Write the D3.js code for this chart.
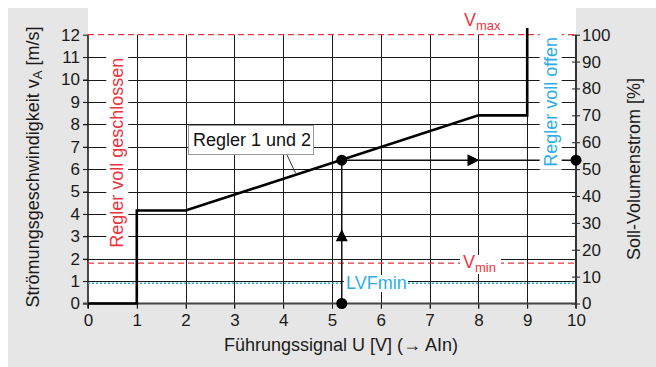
<!DOCTYPE html>
<html>
<head>
<meta charset="utf-8">
<script src="https://cdn.jsdelivr.net/npm/d3@7"></script>
<style>
  body { margin: 0; background: #fff; }
  svg { display: block; font-family: "Liberation Sans", Arial, sans-serif; }
</style>
</head>
<body>
<svg id="chart" width="656" height="367"></svg>
<script>
// Control signal U [V] and resulting air velocity v_A [m/s]
const xTicks = [0, 1, 2, 3, 4, 5, 6, 7, 8, 9, 10];
const yTicks = [0, 1, 2, 3, 4, 5, 6, 7, 8, 9, 10, 11, 12];
const pctTicks = [0, 10, 20, 30, 40, 50, 60, 70, 80, 90, 100];

// Characteristic curve of "Regler 1 und 2"
const curveU = [0, 1, 1, 2, 8, 9, 9];
const curveV = [0, 0, 4.15, 4.15, 8.4, 8.4, 12.3];

// Limits
const vMax = 12;
const vMin = 1.8;
const lvfMin = 0.9;

// Operating point example
const opU = 5.2;
const opV = 6.4;
const opArrowV = 3.05;   // where the upward arrow sits
const opArrowU = 7.9;    // where the rightward arrow sits

const svg = d3.select("#chart");
const W = 656, H = 367;
const mLeft = 88, mRight = 576, mTop = 34.7, mBottom = 303.5;

const x = d3.scaleLinear().domain([0, 10]).range([mLeft, mRight]);
const y = d3.scaleLinear().domain([0, 12]).range([mBottom, mTop]);
const yPct = d3.scaleLinear().domain([0, 100]).range([mBottom, mTop]);

const red = "#ee3340";
const blue = "#2eaee6";
const gridCol = "#1a1a1a";
const fontFam = "Liberation Sans, Arial, sans-serif";
const tickFs = 17, labelFs = 18;

// Frame panels
svg.append("rect").attr("x", 8).attr("y", 8).attr("width", W - 8).attr("height", H - 8).attr("fill", "#e6e6e6");
svg.append("rect").attr("x", mLeft).attr("y", 0).attr("width", mRight - mLeft).attr("height", mBottom).attr("fill", "#fff");

const px = v => Math.round(v) + 0.5;

// Grid (top line is the V_max limit instead)
const g = svg.append("g");
g.selectAll(".hg").data(yTicks.filter(d => d > 0 && d < 12)).join("line")
  .attr("x1", mLeft - 5).attr("x2", mRight)
  .attr("y1", d => px(y(d))).attr("y2", d => px(y(d)))
  .attr("stroke", gridCol).attr("stroke-width", 1);
g.selectAll(".vg").data(xTicks.filter(d => d > 0 && d < 10)).join("line")
  .attr("x1", d => px(x(d))).attr("x2", d => px(x(d)))
  .attr("y1", mTop).attr("y2", mBottom + 5)
  .attr("stroke", gridCol).attr("stroke-width", 1);

// Left and bottom axes (ticks + labels) via d3 axes
const axL = d3.axisLeft(y).tickValues(yTicks).tickSize(5).tickPadding(3).tickFormat(d3.format("d"));
const gL = svg.append("g").attr("transform", `translate(${mLeft},0)`).call(axL);
gL.select(".domain").remove();
gL.selectAll(".tick line").attr("stroke", gridCol);
gL.selectAll(".tick text").attr("font-size", tickFs).attr("fill", "#1a1a1a").attr("font-family", fontFam);

const axB = d3.axisBottom(x).tickValues(xTicks).tickSize(5).tickPadding(5).tickFormat(d3.format("d"));
const gB = svg.append("g").attr("transform", `translate(0,${mBottom})`).call(axB);
gB.select(".domain").remove();
gB.selectAll(".tick line").attr("stroke", gridCol);
gB.selectAll(".tick text").attr("font-size", tickFs).attr("fill", "#1a1a1a").attr("font-family", fontFam);

const axR = d3.axisRight(yPct).tickValues(pctTicks).tickSize(4).tickPadding(2).tickFormat(d3.format("d"));
const gR = svg.append("g").attr("transform", `translate(${mRight},0)`).call(axR);
gR.select(".domain").remove();
gR.selectAll(".tick line").attr("x1", -4).attr("stroke", gridCol);
gR.selectAll(".tick text").attr("font-size", tickFs).attr("fill", "#1a1a1a").attr("font-family", fontFam);

// Plot borders: left edge, bottom edge, right axis line
svg.append("line").attr("x1", mLeft).attr("x2", mLeft).attr("y1", mTop).attr("y2", mBottom + 5)
  .attr("stroke", "#111").attr("stroke-width", 1.5);
svg.append("line").attr("x1", mLeft - 5).attr("x2", mRight).attr("y1", mBottom).attr("y2", mBottom)
  .attr("stroke", "#444").attr("stroke-width", 2);
svg.append("line").attr("x1", mRight).attr("x2", mRight).attr("y1", mTop).attr("y2", mBottom + 5)
  .attr("stroke", "#333").attr("stroke-width", 2);

// Limit lines
svg.append("line").attr("x1", mLeft).attr("x2", mRight).attr("y1", y(vMax)).attr("y2", y(vMax))
  .attr("stroke", red).attr("stroke-width", 1.2).attr("stroke-dasharray", "6,4");
svg.append("line").attr("x1", mLeft).attr("x2", mRight).attr("y1", y(vMin)).attr("y2", y(vMin))
  .attr("stroke", red).attr("stroke-width", 1.2).attr("stroke-dasharray", "6,4");
svg.append("line").attr("x1", mLeft).attr("x2", mRight).attr("y1", y(lvfMin)).attr("y2", y(lvfMin))
  .attr("stroke", blue).attr("stroke-width", 1.5).attr("stroke-dasharray", "2,2");

// Operating point construction lines
const op = svg.append("g");
op.append("line").attr("x1", x(opU)).attr("x2", x(opU)).attr("y1", y(0)).attr("y2", y(opV))
  .attr("stroke", "#111").attr("stroke-width", 1.5);
op.append("line").attr("x1", x(opU)).attr("x2", x(10)).attr("y1", y(opV)).attr("y2", y(opV))
  .attr("stroke", "#111").attr("stroke-width", 1.5);
op.append("path")
  .attr("d", `M${x(opU)},${y(opArrowV) - 6} l-6,12 l12,0 z`)
  .attr("fill", "#000");
op.append("path")
  .attr("d", `M${x(opArrowU) + 6},${y(opV)} l-12,-6 l0,12 z`)
  .attr("fill", "#000");

// Vertical region labels on white backing
function vLabel(cx, cy, txt, col) {
  const grp = svg.append("g").attr("transform", `translate(${cx},${cy}) rotate(-90)`);
  const bg = grp.append("rect").attr("fill", "#fff");
  const t = grp.append("text").attr("text-anchor", "middle").attr("dominant-baseline", "central")
    .attr("font-size", labelFs).attr("fill", col).text(txt);
  const bb = t.node().getBBox();
  bg.attr("x", bb.x - 3).attr("y", bb.y - 1).attr("width", bb.width + 6).attr("height", bb.height + 2);
}
vLabel(x(0.6), y(6.73), "Regler voll geschlossen", red);
vLabel(x(9.48), y(9.0), "Regler voll offen", blue);

// Characteristic curve
const line = d3.line().x(d => x(d[0])).y(d => y(d[1]));
svg.append("path").datum(d3.zip(curveU, curveV))
  .attr("d", line).attr("fill", "none").attr("stroke", "#000")
  .attr("stroke-width", 2.6).attr("stroke-linejoin", "miter");

// Operating point dots
svg.append("g").selectAll("circle").data([[opU, 0], [opU, opV], [10, opV]]).join("circle")
  .attr("cx", d => x(d[0])).attr("cy", d => y(d[1])).attr("r", 5.5).attr("fill", "#000");

// Curve label with leader
svg.append("line").attr("x1", 287).attr("y1", 155).attr("x2", 295.5).attr("y2", 173)
  .attr("stroke", "#333").attr("stroke-width", 1);
svg.append("rect").attr("x", 188.5).attr("y", 125.5).attr("width", 125).attr("height", 29)
  .attr("fill", "#fff").attr("stroke", "#999").attr("stroke-width", 1);
svg.append("text").attr("x", 252).attr("y", 146).attr("text-anchor", "middle")
  .attr("font-size", labelFs).attr("fill", "#111").text("Regler 1 und 2");

// Limit labels
const vmaxT = svg.append("text").attr("x", 464).attr("y", 26).attr("font-size", labelFs).attr("fill", red);
vmaxT.append("tspan").text("V");
vmaxT.append("tspan").attr("font-size", 13).attr("dy", 4).text("max");

svg.append("rect").attr("x", 460).attr("y", 255).attr("width", 41).attr("height", 19).attr("fill", "#fff");
const vminT = svg.append("text").attr("x", 463).attr("y", 268).attr("font-size", labelFs).attr("fill", red);
vminT.append("tspan").text("V");
vminT.append("tspan").attr("font-size", 13).attr("dy", 4).text("min");

svg.append("rect").attr("x", 344).attr("y", 275).attr("width", 64).attr("height", 17).attr("fill", "#fff");
svg.append("text").attr("x", 346).attr("y", 289).attr("font-size", labelFs).attr("fill", blue).text("LVFmin");

// Axis titles
const yt = svg.append("text").attr("transform", `translate(33,167) rotate(-90)`)
  .attr("text-anchor", "middle").attr("dominant-baseline", "central")
  .attr("font-size", labelFs).attr("fill", "#1a1a1a");
yt.append("tspan").text("Strömungsgeschwindigkeit v");
yt.append("tspan").attr("font-size", 13).attr("dy", 4).text("A");
yt.append("tspan").attr("dy", -4).text(" [m/s]");

svg.append("text").attr("transform", `translate(634,169) rotate(-90)`)
  .attr("text-anchor", "middle").attr("dominant-baseline", "central")
  .attr("font-size", labelFs).attr("fill", "#1a1a1a").text("Soll-Volumenstrom [%]");

svg.append("text").attr("x", 341).attr("y", 351).attr("text-anchor", "middle")
  .attr("font-size", labelFs).attr("fill", "#1a1a1a").text("Führungssignal U [V] (\u2192 AIn)");
</script>
</body>
</html>
